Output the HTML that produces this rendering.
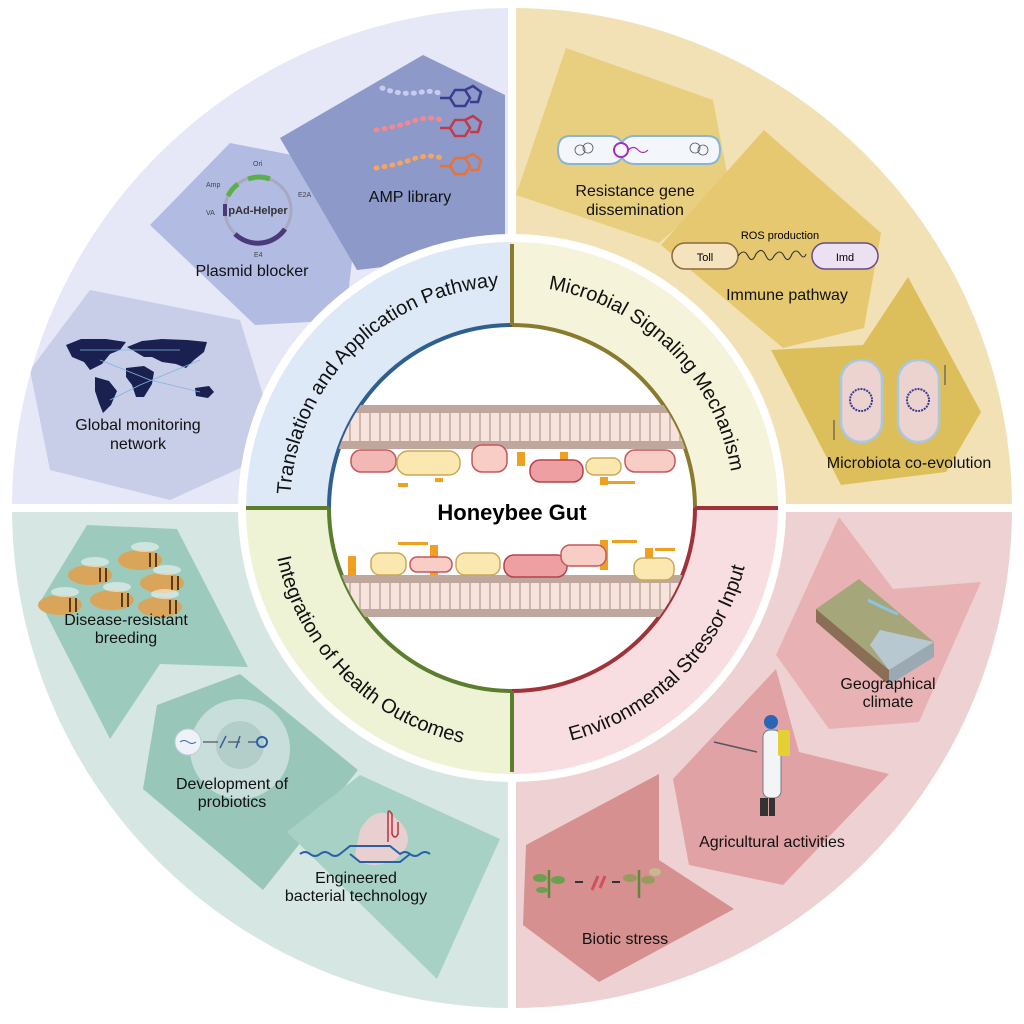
<!DOCTYPE html>
<html><head><meta charset="utf-8"><style>
html,body{margin:0;padding:0;background:#fff}
svg{display:block}
text{font-family:"Liberation Sans",sans-serif}
</style></head><body>
<svg width="1024" height="1024" viewBox="0 0 1024 1024" xmlns="http://www.w3.org/2000/svg">
<defs>
<clipPath id="cTL"><path d="M512,508 L512,0 L0,0 L0,508 Z"/></clipPath>
<clipPath id="cTR"><path d="M512,508 L512,0 L1024,0 L1024,508 Z"/></clipPath>
<clipPath id="cBR"><path d="M512,508 L1024,508 L1024,1024 L512,1024 Z"/></clipPath>
<clipPath id="cBL"><path d="M512,508 L0,508 L0,1024 L512,1024 Z"/></clipPath>
<clipPath id="outer"><circle cx="512" cy="508" r="500"/></clipPath>
<clipPath id="center"><circle cx="512" cy="508" r="183"/></clipPath>
<path id="pTL" d="M290,508 A222,222 0 0 1 512,286"/>
<path id="pTR" d="M512,286 A222,222 0 0 1 734,508"/>
<path id="pBR" d="M512,748 A240,240 0 0 0 752,508"/>
<path id="pBL" d="M272,508 A240,240 0 0 0 512,748"/>
</defs>

<g clip-path="url(#outer)">
<rect x="0" y="0" width="508" height="504" fill="#e6e8f7"/>
<rect x="516" y="0" width="508" height="504" fill="#f2e1b4"/>
<rect x="516" y="512" width="508" height="512" fill="#eed1d2"/>
<rect x="0" y="512" width="508" height="512" fill="#d6e7e3"/>

<g clip-path="url(#cTL)">
<polygon points="30,370 90,290 240,320 280,450 170,500 50,470" fill="#c8cde8"/>
<polygon points="150,225 230,143 328,162 353,253 345,320 255,325" fill="#b2bbe2"/>
<polygon points="280,138 423,55 505,95 505,253 357,270" fill="#8c99c9"/>
</g>
<g clip-path="url(#cTR)">
<polygon points="566,48 713,100 729,183 659,243 516,195" fill="#e8cf80"/>
<polygon points="764,130 881,233 864,328 783,348 661,245" fill="#e5c870"/>
<polygon points="908,277 981,412 946,472 841,485 771,350 863,345" fill="#dcbf5a"/>
</g>
<g clip-path="url(#cBR)">
<polygon points="839,517 893,589 981,582 919,722 829,729 776,655" fill="#e8b2b4"/>
<polygon points="776,669 799,752 889,774 783,885 689,865 673,779" fill="#e0a2a4"/>
<polygon points="659,774 659,860 734,909 599,982 523,925 526,845" fill="#d6908f"/>
</g>
<g clip-path="url(#cBL)">
<polygon points="87,525 177,529 248,667 160,664 110,739 40,602" fill="#9ccbbd"/>
<polygon points="240,674 358,770 263,890 143,789 157,705" fill="#98c7b9"/>
<polygon points="360,775 500,839 437,979 287,832" fill="#a8d1c5"/>
</g>
</g>
<rect x="508" y="0" width="8" height="1024" fill="#fff"/>
<rect x="0" y="504" width="1024" height="8" fill="#fff"/>

<circle cx="512" cy="508" r="274" fill="#fff"/>
<path d="M512,508 L512,242 A266,266 0 0 0 246,508 Z" fill="#dde9f6"/>
<path d="M512,508 L512,242 A266,266 0 0 1 778,508 Z" fill="#f5f3d9"/>
<path d="M512,508 L778,508 A266,266 0 0 1 512,774 Z" fill="#f8dee0"/>
<path d="M512,508 L246,508 A266,266 0 0 0 512,774 Z" fill="#eef3d6"/>
<circle cx="512" cy="508" r="183" fill="#fff"/>
<path d="M329,508 A183,183 0 0 1 512,325" fill="none" stroke="#2f5f8f" stroke-width="4"/>
<path d="M512,325 A183,183 0 0 1 695,508" fill="none" stroke="#8a7a2e" stroke-width="4"/>
<path d="M695,508 A183,183 0 0 1 512,691" fill="none" stroke="#a0323a" stroke-width="4"/>
<path d="M512,691 A183,183 0 0 1 329,508" fill="none" stroke="#5a7d2e" stroke-width="4"/>
<line x1="512" y1="244" x2="512" y2="325" stroke="#8a7a2e" stroke-width="4"/>
<line x1="695" y1="508" x2="778" y2="508" stroke="#a0323a" stroke-width="4"/>
<line x1="512" y1="691" x2="512" y2="772" stroke="#5a7d2e" stroke-width="4"/>
<line x1="246" y1="508" x2="329" y2="508" stroke="#5a7d2e" stroke-width="4"/>

<text font-size="20" fill="#111"><textPath href="#pTL" startOffset="50%" text-anchor="middle">Translation and Application Pathway</textPath></text>
<text font-size="20" fill="#111"><textPath href="#pTR" startOffset="50%" text-anchor="middle">Microbial Signaling Mechanism</textPath></text>
<text font-size="20" fill="#111"><textPath href="#pBR" startOffset="50%" text-anchor="middle">Environmental Stressor Input</textPath></text>
<text font-size="20" fill="#111"><textPath href="#pBL" startOffset="50%" text-anchor="middle">Integration of Health Outcomes</textPath></text>

<g clip-path="url(#center)">
<rect x="320" y="405" width="390" height="44" fill="#f7e3dc"/>
<rect x="320" y="575" width="390" height="42" fill="#f7e3dc"/>
<g fill="#bfa79e">
<rect x="320" y="405" width="390" height="8" rx="4"/>
<rect x="320" y="441" width="390" height="8" rx="4"/>
<rect x="320" y="575" width="390" height="8" rx="4"/>
<rect x="320" y="609" width="390" height="8" rx="4"/>
</g>
<g stroke="#bfa79e" stroke-width="1.5" fill="none">
<path d="M330,413 v28 M340,413 v28 M350,413 v28 M360,413 v28 M370,413 v28 M380,413 v28 M390,413 v28 M400,413 v28 M410,413 v28 M420,413 v28 M430,413 v28 M440,413 v28 M450,413 v28 M460,413 v28 M470,413 v28 M480,413 v28 M490,413 v28 M500,413 v28 M510,413 v28 M520,413 v28 M530,413 v28 M540,413 v28 M550,413 v28 M560,413 v28 M570,413 v28 M580,413 v28 M590,413 v28 M600,413 v28 M610,413 v28 M620,413 v28 M630,413 v28 M640,413 v28 M650,413 v28 M660,413 v28 M670,413 v28 M680,413 v28 M690,413 v28 M700,413 v28"/>
<path d="M330,583 v26 M340,583 v26 M350,583 v26 M360,583 v26 M370,583 v26 M380,583 v26 M390,583 v26 M400,583 v26 M410,583 v26 M420,583 v26 M430,583 v26 M440,583 v26 M450,583 v26 M460,583 v26 M470,583 v26 M480,583 v26 M490,583 v26 M500,583 v26 M510,583 v26 M520,583 v26 M530,583 v26 M540,583 v26 M550,583 v26 M560,583 v26 M570,583 v26 M580,583 v26 M590,583 v26 M600,583 v26 M610,583 v26 M620,583 v26 M630,583 v26 M640,583 v26 M650,583 v26 M660,583 v26 M670,583 v26 M680,583 v26 M690,583 v26 M700,583 v26"/>
</g>
<g fill="#f0a020">
<rect x="398" y="483" width="10" height="4"/><rect x="435" y="478" width="8" height="4"/><rect x="517" y="452" width="8" height="14"/><rect x="560" y="452" width="8" height="10"/><rect x="600" y="477" width="8" height="8"/><rect x="605" y="481" width="30" height="3"/>
<rect x="348" y="556" width="8" height="20"/><rect x="398" y="542" width="30" height="3"/><rect x="430" y="545" width="8" height="30"/><rect x="600" y="540" width="8" height="30"/><rect x="612" y="540" width="25" height="3"/><rect x="645" y="548" width="8" height="25"/><rect x="655" y="548" width="20" height="3"/>
</g>
<g stroke-width="1.5">
<rect x="351" y="450" width="45" height="22" rx="10" fill="#f2b8b6" stroke="#c5575b"/>
<rect x="397" y="451" width="63" height="24" rx="11" fill="#fbe8b0" stroke="#c9a857"/>
<rect x="472" y="445" width="35" height="27" rx="10" fill="#f8cdc6" stroke="#c5575b"/>
<rect x="530" y="460" width="53" height="22" rx="10" fill="#ee9fa1" stroke="#b3434b"/>
<rect x="586" y="458" width="35" height="17" rx="8" fill="#fbe8b0" stroke="#c9a857"/>
<rect x="625" y="450" width="50" height="22" rx="10" fill="#f8cdc6" stroke="#c5575b"/>
<rect x="371" y="553" width="35" height="22" rx="9" fill="#fbe8b0" stroke="#c9a857"/>
<rect x="410" y="557" width="42" height="15" rx="7" fill="#f8cdc6" stroke="#c5575b"/>
<rect x="456" y="553" width="44" height="22" rx="9" fill="#fbe8b0" stroke="#c9a857"/>
<rect x="504" y="555" width="63" height="22" rx="10" fill="#ee9fa1" stroke="#b3434b"/>
<rect x="561" y="545" width="45" height="21" rx="9" fill="#f8cdc6" stroke="#c5575b"/>
<rect x="634" y="558" width="40" height="22" rx="9" fill="#fbe8b0" stroke="#c9a857"/>
</g>
</g>
<text x="512" y="520" font-size="22" font-weight="bold" text-anchor="middle" fill="#000">Honeybee Gut</text>

<!-- AMP -->
<g fill="none" stroke-width="5" stroke-linecap="round">
<path d="M382,88 q20,8 40,4 q10,-2 20,2" stroke="#c9cbef" stroke-dasharray="1 7"/>
<path d="M376,130 q25,-4 40,-10 q15,-4 25,0" stroke="#f08a90" stroke-dasharray="1 7"/>
<path d="M376,168 q25,-4 40,-10 q15,-4 25,0" stroke="#f5a461" stroke-dasharray="1 7"/>
</g>
<g fill="none" stroke-width="2.5">
<path d="M440,98 l10,0 l5,-8 l10,0 l5,8 l-5,8 l-10,0 l-5,-8 M465,90 l8,-4 l8,6 l-3,10 l-8,0" stroke="#3b3b8f"/>
<path d="M440,128 l10,0 l5,-8 l10,0 l5,8 l-5,8 l-10,0 l-5,-8 M465,120 l8,-4 l8,6 l-3,10 l-8,0" stroke="#c03a4a"/>
<path d="M440,166 l10,0 l5,-8 l10,0 l5,8 l-5,8 l-10,0 l-5,-8 M465,158 l8,-4 l8,6 l-3,10 l-8,0" stroke="#e6733a"/>
</g>
<!-- plasmid -->
<circle cx="258" cy="210" r="33" fill="none" stroke="#aaa8c0" stroke-width="3"/>
<path d="M235,234 A33,33 0 0 0 285,229" fill="none" stroke="#4a3a7a" stroke-width="5"/>
<path d="M248,179 A33,33 0 0 1 270,179" fill="none" stroke="#5bb04a" stroke-width="5"/>
<path d="M228,196 A33,33 0 0 1 238,184" fill="none" stroke="#5bb04a" stroke-width="5"/>
<rect x="223" y="204" width="4" height="12" fill="#4a3a7a"/>
<text x="258" y="214" font-size="11" font-weight="bold" text-anchor="middle" fill="#333">pAd-Helper</text>
<g font-size="7" fill="#444"><text x="253" y="166">Ori</text><text x="206" y="187">Amp</text><text x="298" y="197">E2A</text><text x="206" y="215">VA</text><text x="254" y="257">E4</text></g>
<!-- world map -->
<g fill="#1a2150">
<path d="M66,345 l15,-6 l25,0 l20,3 l-6,8 l-10,4 l-8,10 l-12,6 l-6,-8 l-12,-5 Z"/>
<path d="M95,377 l14,4 l8,10 l-6,14 l-8,8 l-4,-10 l-4,-12 Z"/>
<path d="M127,347 l15,-6 l20,-2 l25,1 l20,2 l-3,10 l-10,8 l-8,8 l-10,-4 l-14,-2 l-10,-5 l-8,0 Z"/>
<path d="M126,368 l18,-2 l10,6 l-2,12 l-8,13 l-8,0 l-4,-12 l-6,-8 Z"/>
<path d="M195,388 l14,-2 l5,6 l-6,6 l-12,-2 Z"/>
</g>
<g stroke="#7fb6e0" stroke-width="0.8" fill="none"><path d="M100,360 L150,380 L200,392 M110,400 L140,385 L200,360 M80,350 L180,350"/></g>

<!-- TR icons -->
<path d="M570,136 h40 q7,0 12,6 q5,-6 12,-6 h74 q12,0 12,14 q0,14 -12,14 h-74 q-7,0 -12,-6 q-5,6 -12,6 h-40 q-12,0 -12,-14 q0,-14 12,-14 Z" fill="#f3f7fb" stroke="#8ab4d6" stroke-width="2"/>
<circle cx="621" cy="150" r="7" fill="none" stroke="#a22ec0" stroke-width="2"/>
<path d="M628,150 q6,-5 10,0 q5,5 10,0" fill="none" stroke="#a22ec0" stroke-width="1.2"/>
<g fill="none" stroke="#556" stroke-width="0.8"><circle cx="580" cy="150" r="5"/><circle cx="588" cy="148" r="5"/><circle cx="695" cy="148" r="5"/><circle cx="703" cy="150" r="5"/></g>
<rect x="672" y="243" width="66" height="26" rx="13" fill="#f5e2bf" stroke="#8a6a3a" stroke-width="1.5"/>
<text x="705" y="261" font-size="11" text-anchor="middle">Toll</text>
<rect x="812" y="243" width="66" height="26" rx="13" fill="#ece0f3" stroke="#6a4a8a" stroke-width="1.5"/>
<text x="845" y="261" font-size="11" text-anchor="middle">Imd</text>
<text x="780" y="239" font-size="11" text-anchor="middle">ROS production</text>
<path d="M738,256 q6,-8 10,0 q4,8 8,-2 q6,-8 10,2 q4,8 8,0 q6,-8 10,0 q4,8 8,-2 q4,-6 8,0 q4,6 6,0" fill="none" stroke="#333" stroke-width="1.1"/>
<rect x="841" y="360" width="41" height="82" rx="20" fill="#ecd3d0" stroke="#a8c8e2" stroke-width="2.5"/>
<rect x="898" y="360" width="41" height="82" rx="20" fill="#ecd3d0" stroke="#a8c8e2" stroke-width="2.5"/>
<circle cx="861" cy="400" r="11" fill="none" stroke="#3a3a90" stroke-width="2" stroke-dasharray="2 1"/>
<circle cx="918" cy="400" r="11" fill="none" stroke="#3a3a90" stroke-width="2" stroke-dasharray="2 1"/>
<path d="M834,420 v20 M945,385 v-20" stroke="#445" stroke-width="1"/>

<!-- BR icons -->
<polygon points="816,609 859,579 934,642 889,670" fill="#a5a77a"/>
<polygon points="880,630 934,642 889,670 870,645" fill="#b8c8d0"/>
<polygon points="816,609 889,670 889,685 816,622" fill="#8a6e55"/>
<polygon points="889,670 934,642 934,657 889,685" fill="#9aa9b2"/>
<path d="M868,600 q15,8 30,14" stroke="#8cc4e0" stroke-width="3" fill="none"/>
<rect x="763" y="730" width="18" height="68" rx="7" fill="#f2f4f6" stroke="#778" stroke-width="1"/>
<rect x="778" y="730" width="12" height="26" rx="2" fill="#e3d034"/>
<circle cx="771" cy="722" r="7" fill="#2a66b5"/>
<path d="M714,742 L757,752" stroke="#556" stroke-width="1.5"/>
<rect x="760" y="798" width="8" height="18" fill="#333"/><rect x="769" y="798" width="6" height="18" fill="#333"/>
<g stroke="#5c8a3a" stroke-width="2.5" fill="none"><path d="M549,870 v28 M639,870 v28"/></g>
<g fill="#6aa050"><ellipse cx="540" cy="878" rx="7" ry="4"/><ellipse cx="558" cy="880" rx="7" ry="4"/><ellipse cx="542" cy="890" rx="6" ry="3"/></g>
<g fill="#9a9a60"><ellipse cx="630" cy="878" rx="7" ry="4"/><ellipse cx="648" cy="880" rx="7" ry="4"/><ellipse cx="655" cy="872" rx="6" ry="4" fill="#c8b890"/></g>
<path d="M575,882 h8 M612,882 h8" stroke="#333" stroke-width="2"/>
<path d="M592,890 l6,-14 M600,888 l5,-12" stroke="#d05060" stroke-width="3"/>

<!-- BL icons -->
<g>
<g fill="#d9a55a"><ellipse cx="90" cy="575" rx="22" ry="10"/><ellipse cx="140" cy="560" rx="22" ry="10"/><ellipse cx="162" cy="583" rx="22" ry="10"/><ellipse cx="60" cy="605" rx="22" ry="10"/><ellipse cx="112" cy="600" rx="22" ry="10"/><ellipse cx="160" cy="607" rx="22" ry="10"/></g>
<g stroke="#5a3a1a" stroke-width="2"><path d="M100,568 v14 M106,568 v14 M150,553 v14 M156,553 v14 M172,576 v14 M178,576 v14 M70,598 v14 M76,598 v14 M122,593 v14 M128,593 v14 M170,600 v14 M176,600 v14"/></g>
<g fill="#ffffff" opacity="0.5"><ellipse cx="95" cy="562" rx="14" ry="5"/><ellipse cx="145" cy="547" rx="14" ry="5"/><ellipse cx="167" cy="570" rx="14" ry="5"/><ellipse cx="65" cy="592" rx="14" ry="5"/><ellipse cx="117" cy="587" rx="14" ry="5"/><ellipse cx="165" cy="594" rx="14" ry="5"/></g>
</g>
<circle cx="240" cy="749" r="50" fill="#c8dedb"/>
<circle cx="240" cy="745" r="24" fill="#b3cdc8"/>
<circle cx="188" cy="742" r="13" fill="#eef2f8" stroke="#c0cce0"/>
<path d="M180,742 q4,-3 8,0 q4,3 8,0" stroke="#3a60a0" fill="none"/>
<path d="M203,742 h15 M228,742 h12 M248,742 h8" stroke="#334" stroke-width="1"/>
<path d="M220,748 l6,-12 M236,748 l4,-12" stroke="#3a60a0" stroke-width="1.5"/>
<circle cx="262" cy="742" r="5" fill="none" stroke="#2a5fa8" stroke-width="2"/>
<path d="M360,830 q17,-30 40,-8 q18,20 -5,38 q-30,12 -40,-5 Z" fill="#efcfd0" opacity="0.9"/>
<path d="M300,854 q5,-4 10,0 q5,4 10,0 q5,-4 10,0 q5,4 10,0 l10,-8 h40 l10,8 q5,-4 10,0 q5,4 10,0 q5,-4 10,0" fill="none" stroke="#2a5fa8" stroke-width="2"/>
<path d="M350,854 l10,8 h40 l10,-8" fill="none" stroke="#2a5fa8" stroke-width="2"/>
<path d="M388,842 v-28 q0,-6 4,0 v20 q3,6 6,0 v-12" fill="none" stroke="#c03040" stroke-width="1.5"/>

<g font-size="16" fill="#111" text-anchor="middle">
<text x="410" y="202">AMP library</text>
<text x="252" y="276">Plasmid blocker</text>
<text x="138" y="430">Global monitoring</text>
<text x="138" y="449">network</text>
<text x="635" y="196">Resistance gene</text>
<text x="635" y="215">dissemination</text>
<text x="787" y="300">Immune pathway</text>
<text x="909" y="468">Microbiota co-evolution</text>
<text x="888" y="689">Geographical</text>
<text x="888" y="707">climate</text>
<text x="772" y="847">Agricultural activities</text>
<text x="625" y="944">Biotic stress</text>
<text x="126" y="625">Disease-resistant</text>
<text x="126" y="643">breeding</text>
<text x="232" y="789">Development of</text>
<text x="232" y="807">probiotics</text>
<text x="356" y="883">Engineered</text>
<text x="356" y="901">bacterial technology</text>
</g>
</svg>
</body></html>
